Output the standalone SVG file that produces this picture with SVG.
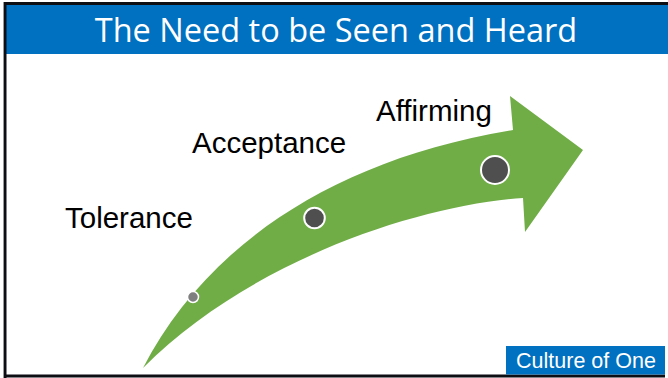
<svg xmlns="http://www.w3.org/2000/svg" width="668" height="378" viewBox="0 0 668 378">
  <style>
    .label { font-family: "Liberation Sans", Arial, sans-serif; font-size: 29.5px; fill: #000; }
    .title { font-family: "Open Sans", "Noto Sans", sans-serif; font-size: 32.5px; fill: #fff; }
    .tag { font-family: "Liberation Sans", Arial, sans-serif; font-size: 21.5px; fill: #fff; }
    .dot { stroke: #fff; }
  </style>
  <rect x="0" y="0" width="668" height="378" fill="#fff"/>

  <!-- slide frame -->
  <g id="frame">
    <rect x="6" y="5" width="662" height="49" fill="#0070C0"/>
    <rect x="4" y="2" width="664" height="3" fill="#0d0d14"/>
    <rect x="4" y="2" width="2.5" height="376" fill="#0d0d14"/>
    <rect x="3" y="2" width="1" height="376" fill="#9a9a9a"/>
    <rect x="4" y="374.5" width="661" height="3" fill="#0d0d14"/>
  </g>

  <g id="title">
    <text class="title" x="336" y="42" text-anchor="middle">The Need to be Seen and Heard</text>
  </g>

  <!-- curved progress arrow -->
  <g id="arrow">
    <path fill="#70AD47" d="M143,368 C205,248 330,160 513,130 L510,96 L583,150 L525,232 L523,198 C420,205 250,260 143,368 Z"/>
  </g>

  <g id="node-tolerance">
    <circle class="dot" cx="193" cy="297" r="5.5" fill="#7f7f7f" stroke-width="1.5"/>
    <text class="label" x="65" y="228">Tolerance</text>
  </g>
  <g id="node-acceptance">
    <circle class="dot" cx="314.5" cy="218" r="10.3" fill="#4f4f4f" stroke-width="2"/>
    <text class="label" x="192" y="153">Acceptance</text>
  </g>
  <g id="node-affirming">
    <circle class="dot" cx="495" cy="170" r="14" fill="#4f4f4f" stroke-width="2"/>
    <text class="label" x="376" y="121">Affirming</text>
  </g>

  <g id="badge">
    <rect x="506" y="346" width="159" height="28.5" fill="#0070C0"/>
    <text class="tag" x="586" y="367.5" text-anchor="middle">Culture of One</text>
  </g>
</svg>
